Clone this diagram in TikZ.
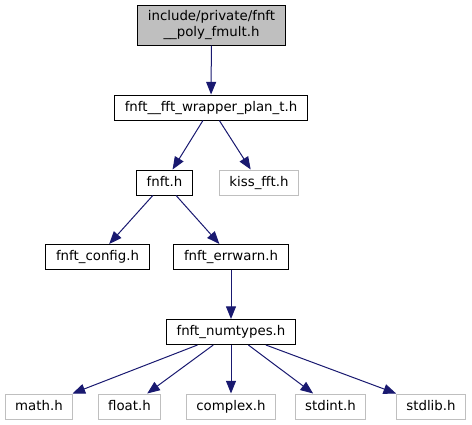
\documentclass[tikz,border=0pt]{standalone}
\usepackage{fontspec}
\setmainfont{DejaVu Sans}
\usetikzlibrary{arrows.meta}
\definecolor{incblue}{HTML}{191970}
\definecolor{extgray}{HTML}{BFBFBF}
\tikzstyle{every node}=[font=\fontsize{10}{12}\selectfont]
\tikzstyle{hdr}=[draw=black, fill=white, line width=0.75pt, inner xsep=7.6pt, inner ysep=0pt, minimum height=18.75pt, text height=7.6pt, text depth=2.2pt]
\tikzstyle{exthdr}=[hdr, draw=extgray]
\tikzstyle{mainhdr}=[hdr, fill=extgray, align=center, minimum height=30pt, minimum width=110pt, text height=, text depth=]
\tikzstyle{inc}=[draw=incblue, line width=0.75pt, -{Triangle[length=9.5pt,width=7.5pt]}]

\begin{document}
\begin{tikzpicture}[x=0.75pt, y=-0.75pt]
\useasboundingbox (0,0) rectangle (472,425);

\node[mainhdr] (poly) at (211.5,25) {include/private/fnft\\\_\_poly\_fmult.h};
\node[hdr] (wrap) at (211,107.5) {fnft\_\_fft\_wrapper\_plan\_t.h};
\node[hdr] (fnft) at (164.5,182.5) {fnft.h};
\node[exthdr] (kiss) at (259,182.5) {kiss\_fft.h};
\node[hdr] (config) at (97.5,257) {fnft\_config.h};
\node[hdr] (errwarn) at (231,257) {fnft\_errwarn.h};
\node[hdr] (numtypes) at (231,332) {fnft\_numtypes.h};
\node[exthdr] (math) at (39,406.5) {math.h};
\node[exthdr] (float) at (129.5,406.5) {float.h};
\node[exthdr] (complex) at (231,406.5) {complex.h};
\node[exthdr] (stdint) at (330.5,406.5) {stdint.h};
\node[exthdr] (stdlib) at (431,406.5) {stdlib.h};

\draw[inc] (poly) -- (wrap);
\draw[inc] (wrap) -- (fnft);
\draw[inc] (wrap) -- (kiss);
\draw[inc] (fnft) -- (config);
\draw[inc] (fnft) -- (errwarn);
\draw[inc] (errwarn) -- (numtypes);
\draw[inc] (numtypes) -- (math);
\draw[inc] (numtypes) -- (float);
\draw[inc] (numtypes) -- (complex);
\draw[inc] (numtypes) -- (stdint);
\draw[inc] (numtypes) -- (stdlib);
\end{tikzpicture}
\end{document}
